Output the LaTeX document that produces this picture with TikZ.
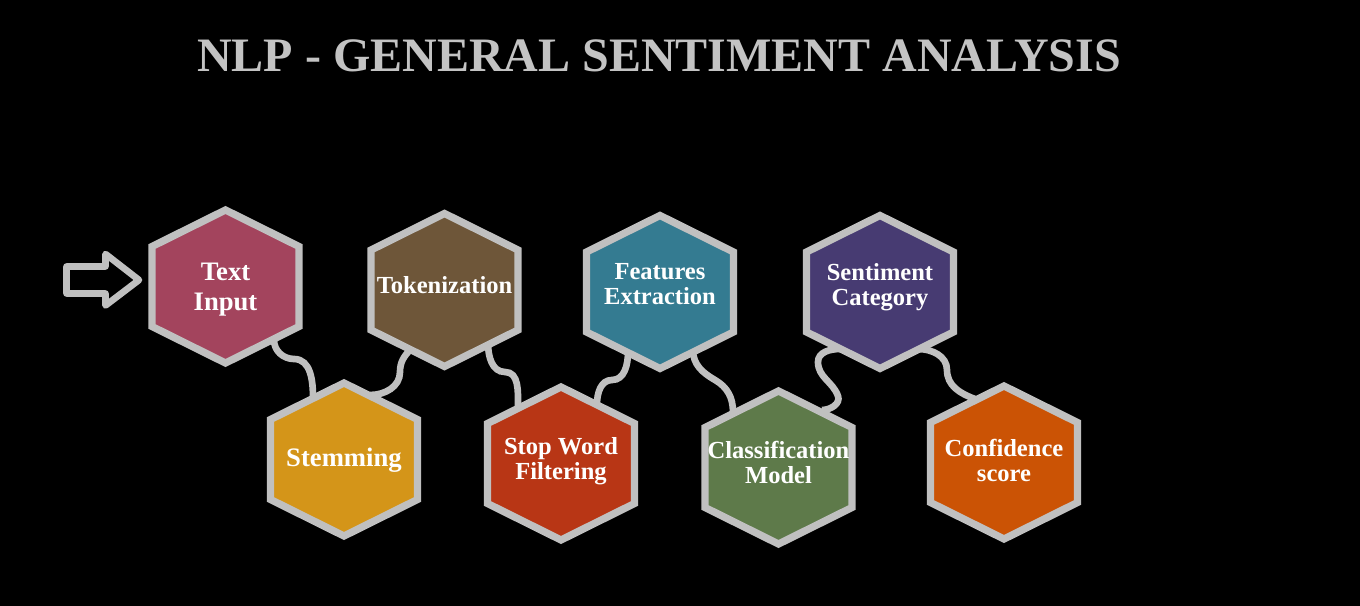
\documentclass[tikz,border=0pt]{standalone}
\usepackage{fontspec}
\setmainfont{Liberation Serif}
\usetikzlibrary{calc,backgrounds}
\definecolor{hxRim}{HTML}{C0C0C0}
\definecolor{hxTitle}{HTML}{C3C3C3}
\definecolor{hxRose}{HTML}{A3445D}
\definecolor{hxGold}{HTML}{D49519}
\definecolor{hxBrown}{HTML}{6E5639}
\definecolor{hxRust}{HTML}{B83615}
\definecolor{hxTeal}{HTML}{347B91}
\definecolor{hxOlive}{HTML}{5E7A4A}
\definecolor{hxPlum}{HTML}{473B72}
\definecolor{hxOrange}{HTML}{CB5305}
\tikzset{
  hexrim/.style={draw=hxRim, line width=5.5pt, line join=miter},
  hexlbl/.style={text=white, inner sep=0pt, align=center, font={\bfseries\fontsize{18.4}{19}\selectfont}},
  hexlblL/.style={hexlbl, font={\bfseries\fontsize{20}{22.5}\selectfont}},
  link/.style={draw=hxRim, line width=5pt},
  inarr/.style={draw=hxRim, line width=5pt, line join=round},
  ttl/.style={text=hxTitle, inner sep=0pt, anchor=base, font={\bfseries\fontsize{36}{40}\selectfont}},
}
% hexagon cell: [label style]{name}{centre}{fill}{label lift}{label}
\newcommand{\hexcell}[6][hexlbl]{%
  \coordinate (#2) at (#3);
  \path[hexrim, fill=#4] (#2) ++(0,76.5) -- ++(73.5,-36.5) -- ++(0,-80) -- ++(-73.5,-36.5) -- ++(-73.5,36.5) -- ++(0,80) -- cycle;
  \node[#1] (#2-l) at ($(#2)+(0,#5)$) {#6};
}

\begin{document}
\begin{tikzpicture}[x=0.75pt, y=0.75pt]
  \useasboundingbox (0,0) rectangle (1360,-606);
  \node[ttl] (title) at (659,-72) {NLP - GENERAL SENTIMENT ANALYSIS};

  \draw[inarr] (66.5,-266.5) -- (105.5,-266.5) -- (105.5,-254) -- (139,-280) -- (105.5,-305.5) -- (105.5,-293.5) -- (66.5,-293.5) -- cycle;

  \hexcell[hexlblL]{tin}{225.5,-286.5}{hxRose}{-3.5}{Text\\Input}
  \hexcell[hexlblL]{stem}{344,-459.5}{hxGold}{-0.5}{Stemming}
  \hexcell{tok}{444.5,-290}{hxBrown}{5}{Tokenization}
  \hexcell{stop}{561,-463.5}{hxRust}{2.3}{Stop Word\\Filtering}
  \hexcell{feat}{660,-292}{hxTeal}{8}{Features\\Extraction}
  \hexcell{cls}{778.5,-467.5}{hxOlive}{5}{Classification\\Model}
  \hexcell{sent}{880,-292}{hxPlum}{4.8}{Sentiment\\Category}
  \hexcell{conf}{1004,-462.5}{hxOrange}{2}{Confidence\\score}

  \begin{pgfonlayer}{background}
    \fill[black] (0,0) rectangle (1360,-606);
    % wavy links between the cells
    \draw[link] ($(tin)+(48.5,-53.5)$) to[out=-90,in=180] ++(20,-19) to[out=0,in=90] ($(stem)+(-31,61.5)$);
    \draw[link] ($(stem)+(26,64.5)$) to[out=0,in=-90] ++(30,23) to[out=90,in=-135] ($(tok)+(-33.5,-59)$);
    \draw[link] ($(tok)+(43.5,-53)$) to[out=-90,in=180] ++(17,-29) to[out=0,in=90] ($(stop)+(-43,57.5)$);
    \draw[link] ($(stop)+(36,59.5)$) to[out=90,in=180] ++(15,24) to[out=0,in=-90] ($(feat)+(-32,-60)$);
    \draw[link] ($(feat)+(33,-58)$) to[out=-90,in=150] ++(22,-30) to[out=-30,in=90] ($(cls)+(-45.5,55.5)$);
    \draw[link] ($(cls)+(43.5,57.5)$) to[out=0,in=-70] ++(16,14) to[out=110,in=-90] ++(-20,34) to[out=90,in=180] ($(sent)+(-40,-57)$);
    \draw[link] ($(sent)+(38,-57)$) to[out=0,in=90] ++(29,-21) to[out=-90,in=160] ($(conf)+(-29,63.5)$);
  \end{pgfonlayer}
\end{tikzpicture}
\end{document}
